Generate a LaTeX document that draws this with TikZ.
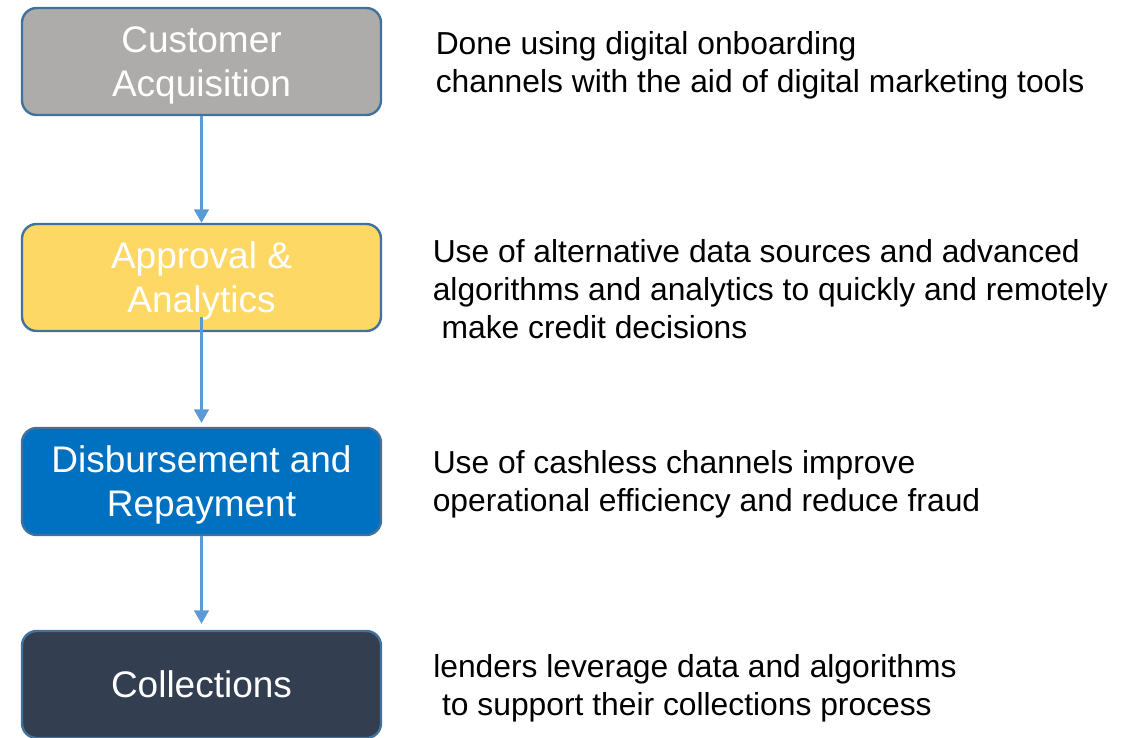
\documentclass[tikz,border=0pt]{standalone}
\usepackage{fontspec}
\setmainfont{Liberation Sans}
\usepackage{xcolor}
\usepackage{tikz}
\usetikzlibrary{arrows.meta,positioning}
\definecolor{edge}{HTML}{41719C}
\definecolor{flow}{HTML}{5B9BD5}
\definecolor{acq}{HTML}{ADACAA}
\definecolor{appr}{HTML}{FDD865}
\definecolor{disb}{HTML}{0070C0}
\definecolor{coll}{HTML}{333F50}

\tikzset{
  stage/.style={draw=edge, line width=1.8pt, rounded corners=11pt, text=white,
    minimum width=269.25pt, minimum height=80.25pt, align=center, text depth=-1.5pt,
    font=\fontsize{27.75pt}{33pt}\selectfont},
  note/.style={anchor=base west, inner sep=0pt, align=left,
    font=\fontsize{23.85pt}{28.5pt}\selectfont},
  flowline/.style={draw=flow, line width=1.6pt, -{Triangle[length=10pt,width=11pt]}}
}

\begin{document}
\begin{tikzpicture}[x=0.75pt,y=-0.75pt]
      \useasboundingbox (0,0) rectangle (1138,738);
      % base of a note is its last line
      \path
      (201.5,61.5) node[stage, fill=acq](cust) {Customer\\Acquisition}
      (201.5,277.5) node[stage, fill=appr](appr) {Approval \&\\Analytics}
      (201.5,481.5) node[stage, fill=disb](disb) {Disbursement and\\Repayment}
      (201.5,684.5) node[stage, fill=coll, text depth=-4.5pt](coll) {Collections}
      (435.5,93) node[note](custtxt) {Done using digital onboarding\\channels with the aid of digital marketing tools}
      (432.5,338) node[note](apprtxt) {Use of alternative data sources and advanced\\algorithms and analytics to quickly and remotely\\~make credit decisions}
      (432.5,511) node[note](disbtxt) {Use of cashless channels improve\\operational efficiency and reduce fraud}
      (433,715) node[note](colltxt) {lenders leverage data and algorithms\\~to support their collections process}
      ;

      \draw[flowline] (cust) -- (appr);
      \draw[flowline, shorten >=3pt] ([yshift=11.25pt]appr.south) -- (disb);
      \draw[flowline, shorten >=4.5pt] (disb) -- (coll);
    \end{tikzpicture}
\end{document}
